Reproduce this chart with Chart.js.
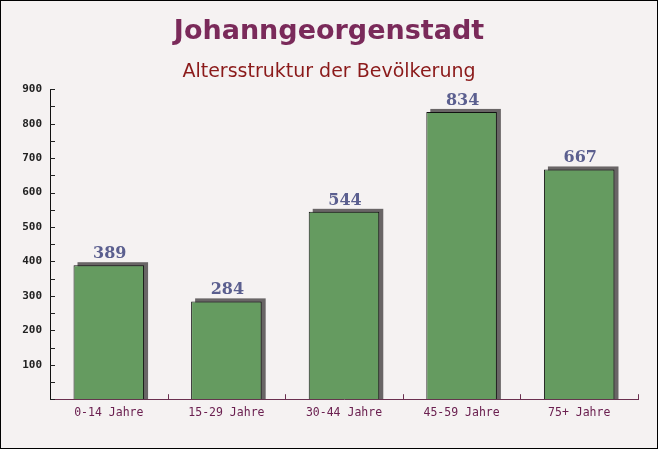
<!DOCTYPE html>
<html>
  <head>
    <title>Johanngeorgenstadt</title>
    <script src="https://cdn.jsdelivr.net/npm/chart.js"></script>
    <style>
      html, body {
        margin: 0;
        padding: 0;
        background: #f5f2f2;
      }
      .container {
        height: 449px;
        position: relative;
        width: 658px;
      }
    </style>
  </head>
  <body>
    <div class="container">
      <canvas id="chart"></canvas>
    </div>

    <script>
      const categories = ['0-14 Jahre', '15-29 Jahre', '30-44 Jahre', '45-59 Jahre', '75+ Jahre'];
      const values = [389, 284, 544, 834, 667];
      const yTicks = [100, 200, 300, 400, 500, 600, 700, 800, 900];

      // Background, frame and the small ticks that point into the plot
      const decor = {
        id: 'decor',
        beforeDraw(chart) {
          const c = chart.ctx;
          c.save();
          c.fillStyle = '#f5f2f2';
          c.fillRect(0, 0, chart.width, chart.height);
          c.restore();
        },
        afterDraw(chart) {
          const c = chart.ctx;
          const y = chart.scales.y;
          const x = chart.scales.x;
          const a = chart.chartArea;
          c.save();
          c.lineWidth = 1;
          c.strokeStyle = '#222';
          for (let v = 0; v <= 900; v += 50) {
            const py = Math.round(y.getPixelForValue(v)) + 0.5;
            c.beginPath();
            c.moveTo(a.left, py);
            c.lineTo(a.left + 5, py);
            c.stroke();
          }
          c.strokeStyle = '#6b3050';
          for (let i = 1; i <= categories.length; i++) {
            const px = Math.round(x.getPixelForValue(i - 0.5)) + 0.5;
            c.beginPath();
            c.moveTo(px, a.bottom);
            c.lineTo(px, a.bottom - 5);
            c.stroke();
          }
          c.strokeStyle = '#000';
          c.strokeRect(0.5, 0.5, chart.width - 1, chart.height - 1);
          c.restore();
        }
      };

      // Dark offset block behind each bar and the value above it
      const barExtras = {
        id: 'barExtras',
        beforeDatasetsDraw(chart) {
          const c = chart.ctx;
          const meta = chart.getDatasetMeta(0);
          c.save();
          c.fillStyle = 'rgba(80, 76, 78, 0.85)';
          meta.data.forEach(bar => {
            const w = bar.width;
            c.fillRect(bar.x - w / 2 + 4, bar.y - 3, w, bar.base - bar.y + 3);
          });
          c.restore();
        },
        afterDatasetsDraw(chart) {
          const c = chart.ctx;
          const meta = chart.getDatasetMeta(0);
          c.save();
          c.font = 'bold 16px "DejaVu Serif"';
          c.fillStyle = '#5b5f8f';
          c.textAlign = 'center';
          c.textBaseline = 'alphabetic';
          meta.data.forEach((bar, i) => {
            c.fillText(values[i], bar.x + 1, bar.y - 7);
          });
          c.restore();
        }
      };

      const ctx = document.getElementById('chart').getContext('2d');
      new Chart(ctx, {
        type: 'bar',
        data: {
          labels: categories,
          datasets: [{
            data: values,
            backgroundColor: '#659b60',
            borderColor: '#111',
            borderWidth: 1,
            barPercentage: 0.6,
            categoryPercentage: 1
          }]
        },
        options: {
          responsive: true,
          maintainAspectRatio: false,
          animation: false,
          layout: {
            padding: { left: 0, right: 0, top: 0, bottom: 22 }
          },
          scales: {
            x: {
              grid: { display: false, drawTicks: false },
              border: { color: '#6b3050', width: 1 },
              ticks: {
                color: '#6b2050',
                font: { family: '"DejaVu Sans Mono"', size: 11.5 },
                padding: 7
              }
            },
            y: {
              min: 0,
              max: 900,
              afterFit(scale) {
                scale.width = 50;
              },
              afterBuildTicks(scale) {
                scale.ticks = yTicks.map(v => ({ value: v }));
              },
              grid: { display: false, drawTicks: false },
              border: { color: '#111', width: 1 },
              ticks: {
                color: '#222',
                font: { family: '"DejaVu Sans Mono"', size: 11, weight: 'bold' },
                padding: 8
              }
            },
            // empty right-hand axis, only keeps a margin beside the plot
            yRight: {
              position: 'right',
              min: 0,
              max: 900,
              afterFit(scale) {
                scale.width = 20;
              },
              grid: { display: false, drawTicks: false },
              border: { display: false },
              ticks: { display: false }
            }
          },
          plugins: {
            legend: { display: false },
            tooltip: { enabled: false },
            title: {
              display: true,
              text: 'Johanngeorgenstadt',
              color: '#7a2a5a',
              font: { family: '"DejaVu Sans"', size: 27, weight: 'bold' },
              padding: { top: 16, bottom: 6 }
            },
            subtitle: {
              display: true,
              text: 'Altersstruktur der Bevölkerung',
              color: '#8b1a1a',
              font: { family: '"DejaVu Sans"', size: 19, weight: 'normal' },
              padding: { top: 6, bottom: 6 }
            }
          }
        },
        plugins: [decor, barExtras]
      });
    </script>
  </body>
</html>
